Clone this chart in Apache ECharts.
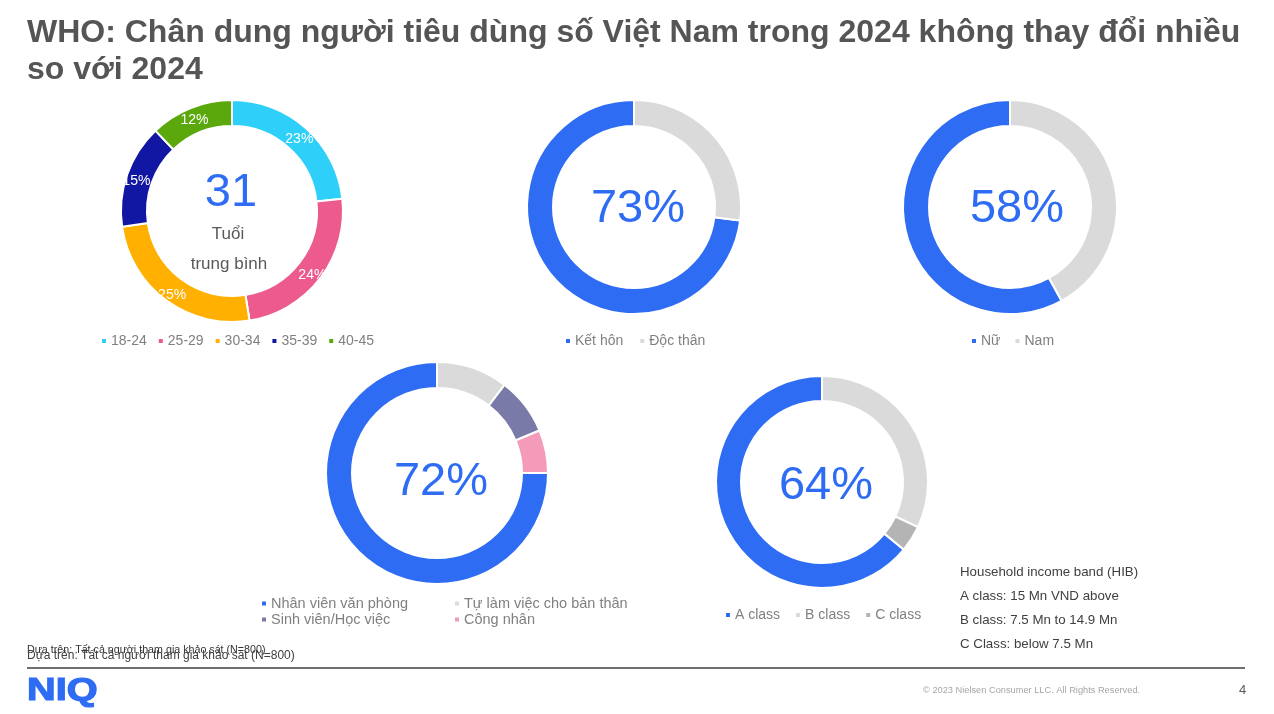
<!DOCTYPE html>
<html>
<head>
<meta charset="utf-8">
<script src="https://cdn.jsdelivr.net/npm/echarts@6/dist/echarts.min.js"></script>
<style>
html,body{margin:0;padding:0;background:#fff;}
#c{width:1274px;height:714px;}
</style>
</head>
<body>
<div id="c"></div>
<script>
// ---- Data ----
const ageCats = ['18-24', '25-29', '30-34', '35-39', '40-45'];
const ageVals = [23, 24, 25, 15, 12];
const maritalCats = ['Kết hôn', 'Độc thân'];
const maritalVals = [73, 27];
const genderCats = ['Nữ', 'Nam'];
const genderVals = [58, 42];
const jobCats = ['Nhân viên văn phòng', 'Tự làm việc cho bản thân', 'Sinh viên/Học việc', 'Công nhân'];
const jobVals = [72, 10, 8, 6];
const classCats = ['A class', 'B class', 'C class'];
const classVals = [64, 32, 4];
const avgAge = '31';
const hibLines = ['Household income band (HIB)', 'A class: 15 Mn VND above', 'B class: 7.5 Mn to 14.9 Mn', 'C Class: below 7.5 Mn'];

// ---- Styles ----
const FONT = '"Liberation Sans", Arial, sans-serif';
const BLUE = '#2F6CF4';
const GRAY = '#DADADA';
const ageColors = ['#2ED0FA', '#EC5A8E', '#FFB000', '#1217A3', '#5AA80C'];
const maritalColors = [BLUE, GRAY];
const genderColors = [BLUE, GRAY];
const jobColors = [BLUE, GRAY, '#7A7AA8', '#F49BBA'];
const classColors = [BLUE, GRAY, '#B4B4B4'];

function mk(cats, vals, colors) {
  return cats.map((n, i) => ({ name: n, value: vals[i], itemStyle: { color: colors[i] } }));
}
function blueEndsTop(vals) {
  const s = vals.reduce((a, b) => a + b, 0);
  return 90 + 360 * vals[0] / s;
}
function donut(center, radius, data, startAngle, showLabel) {
  return {
    type: 'pie', center: center, radius: radius, startAngle: startAngle, clockwise: true,
    avoidLabelOverlap: false, silent: true,
    itemStyle: { borderColor: '#fff', borderWidth: 2 },
    label: showLabel ? { show: true, position: 'inside', color: '#fff', fontSize: 14, fontFamily: FONT, formatter: '{c}%', offset: [0, 3] } : { show: false },
    labelLine: { show: false },
    emphasis: { disabled: true },
    data: data, animation: false
  };
}
function legend(names, left, top, gap, orient, fs) {
  return {
    data: names, left: left, top: top, orient: orient || 'horizontal', itemGap: gap,
    icon: 'rect', itemWidth: 6, itemHeight: 6, selectedMode: false, padding: 0,
    textStyle: { color: '#808080', fontSize: fs || 14, fontFamily: FONT, padding: [0, 0, 0, -1] }
  };
}
function txt(text, x, y, font, fill, align) {
  return { type: 'text', silent: true, style: { text: text, x: x, y: y, font: font, fill: fill,
    textAlign: align || 'left', align: align || 'left', textVerticalAlign: 'middle', verticalAlign: 'middle' } };
}

const chart = echarts.init(document.getElementById('c'), null, { renderer: 'canvas' });
const graphics = [
  txt('WHO: Chân dung người tiêu dùng số Việt Nam trong 2024 không thay đổi nhiều', 27, 33, 'bold 32px ' + FONT, '#555555'),
  txt('so với 2024', 27, 70, 'bold 32px ' + FONT, '#555555'),
  txt(avgAge, 231, 193, '47px ' + FONT, BLUE, 'center'),
  txt('Tuổi', 228, 234, '17px ' + FONT, '#595959', 'center'),
  txt('trung bình', 229, 264, '17px ' + FONT, '#595959', 'center'),
  txt(maritalVals[0] + '%', 638, 209, '47px ' + FONT, BLUE, 'center'),
  txt(genderVals[0] + '%', 1017, 209, '47px ' + FONT, BLUE, 'center'),
  txt(jobVals[0] + '%', 441, 482, '47px ' + FONT, BLUE, 'center'),
  txt(classVals[0] + '%', 826, 486, '47px ' + FONT, BLUE, 'center'),
  txt('Dựa trên: Tất cả người tham gia khảo sát (N=800)', 27, 650, '10.7px ' + FONT, '#333333'),
  txt('Dựa trên: Tất cả người tham gia khảo sát (N=800)', 27, 656, '12px ' + FONT, '#404040'),
  { type: 'line', silent: true, shape: { x1: 27, y1: 668, x2: 1245, y2: 668 }, style: { stroke: '#404040', lineWidth: 1.5 } },
  { type: 'text', silent: true, x: 27, y: 691, scaleX: 1.28,
    style: { text: 'NIQ', x: 0, y: 0, font: 'bold 31px ' + FONT, fill: BLUE, stroke: BLUE, lineWidth: 1.2,
      textAlign: 'left', align: 'left', textVerticalAlign: 'middle', verticalAlign: 'middle' } },
  txt('© 2023 Nielsen Consumer LLC. All Rights Reserved.', 923, 690, '9.25px ' + FONT, '#A6A6A6'),
  txt('4', 1239, 690, '13px ' + FONT, '#595959')
];
hibLines.forEach((l, i) => graphics.push(txt(l, 960, 572 + i * 24, '13.3px ' + FONT, '#404040')));

chart.setOption({
  animation: false,
  graphic: graphics,
  legend: [
    legend(ageCats, 100, 334, 10),
    legend(maritalCats, 564, 334, 15),
    legend(genderCats, 970, 334, 13),
    legend([jobCats[0], jobCats[2]], 260, 596, 1, 'vertical', 14.5),
    legend([jobCats[1], jobCats[3]], 453, 596, 1, 'vertical', 14.5),
    legend(classCats, 724, 608, 14)
  ],
  series: [
    donut([232, 211], [85, 111], mk(ageCats, ageVals, ageColors), 90, true),
    donut([634, 207], [81, 107], mk(maritalCats, maritalVals, maritalColors), blueEndsTop(maritalVals), false),
    donut([1010, 207], [81, 107], mk(genderCats, genderVals, genderColors), blueEndsTop(genderVals), false),
    donut([437, 473], [85, 111], mk(jobCats, jobVals, jobColors), blueEndsTop(jobVals), false),
    donut([822, 482], [81, 106], mk(classCats, classVals, classColors), blueEndsTop(classVals), false)
  ]
});
</script>
</body>
</html>
